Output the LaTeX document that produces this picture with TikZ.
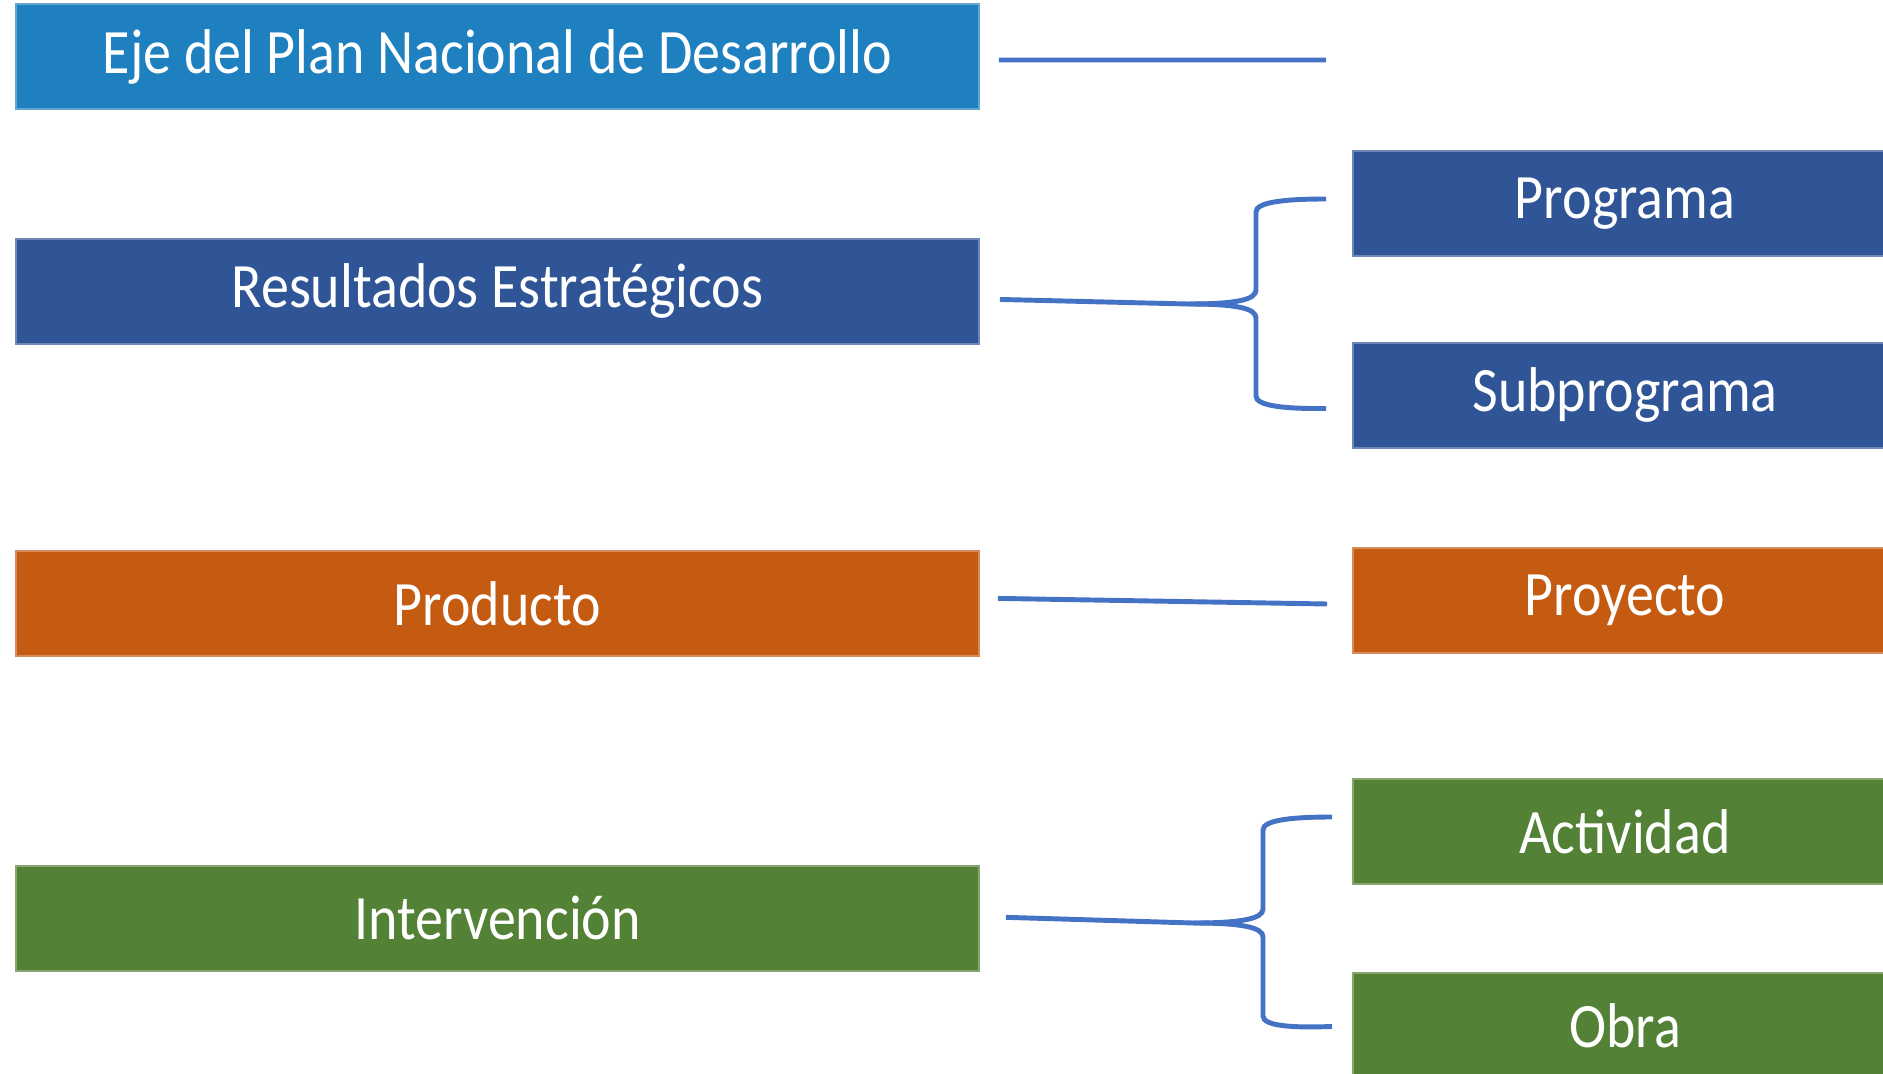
\documentclass[tikz,border=0pt]{standalone}
\usepackage{fontspec}
\setmainfont[FakeStretch=0.885]{Carlito}
\usetikzlibrary{positioning,calc}

\definecolor{ejeblue}{HTML}{1F80C0}
\definecolor{darkblue}{HTML}{2F5597}
\definecolor{orange}{HTML}{C55A11}
\definecolor{green}{HTML}{538135}
\definecolor{linkblue}{HTML}{4472C4}

\begin{document}
\begin{tikzpicture}[x=0.02cm, y=-0.02cm, line width=2.8pt]
		\tikzstyle{box}=[draw=#1!70!white, fill=#1, line width=0.8pt, text=white, inner sep=0pt, outer sep=0pt,
			minimum height=2.1cm, font=\fontsize{36}{40}\selectfont]
		\tikzstyle{leftbox}=[box=#1, minimum width=19.26cm]
		\tikzstyle{rightbox}=[box=#1, minimum width=10.88cm]
		\tikzstyle{link}=[draw=linkblue, line width=2.8pt]
		\useasboundingbox (0,0) rectangle (1883,1074);
		% left column
		\node[leftbox=ejeblue]  (eje)    at (497.5,56.5)      {Eje del Plan Nacional de Desarrollo};
		\node[leftbox=darkblue] (res)    [below=2.6cm of eje]  {Resultados Estratégicos};
		\node[leftbox=orange]   (prod)   [below=4.14cm of res] {Producto};
		\node[leftbox=green]    (interv) [below=4.2cm of prod] {Intervención};
		% right column
		\node[rightbox=darkblue] (prog) at (1625,203.5)       {Programa};
		\node[rightbox=darkblue] (sub)  [below=1.74cm of prog] {Subprograma};
		\node[rightbox=orange]   (proy) at (1625,600.5)       {Proyecto};
		\node[rightbox=green]    (act)  at (1625,831.5)       {Actividad};
		\node[rightbox=green]    (obra) [below=1.78cm of act]  {Obra};
		% connectors
		\coordinate (ejeend) at (1326,60);
		\coordinate (restip) at (1188,304);
		\coordinate (inttip) at (1193,923);
		\draw[link] ([xshift=0.4cm,yshift=-0.07cm]eje.east) -- (ejeend);
		\draw[link] ([xshift=0.42cm,yshift=-0.16cm]res.east) -- (restip);
		\draw[link] (restip) .. controls (1235,304) and (1256,300) .. (1256,290) -- (1256,212)
			.. controls (1256,202) and (1285,199) .. ([xshift=-0.54cm,yshift=0.09cm]prog.west);
		\draw[link] (restip) .. controls (1235,304) and (1256,308) .. (1256,318) -- (1256,396)
			.. controls (1256,406) and (1285,409) .. ([xshift=-0.54cm,yshift=-0.26cm]sub.west);
		\draw[link] ([xshift=0.38cm,yshift=0.1cm]prod.east) -- ([xshift=-0.52cm,yshift=-0.07cm]proy.west);
		\draw[link] ([xshift=0.54cm,yshift=0.02cm]interv.east) -- (inttip);
		\draw[link] (inttip) .. controls (1240,923) and (1263,919) .. (1263,909) -- (1263,830)
			.. controls (1263,820) and (1292,817) .. ([xshift=-0.42cm,yshift=0.29cm]act.west);
		\draw[link] (inttip) .. controls (1240,923) and (1263,927) .. (1263,937) -- (1263,1016)
			.. controls (1263,1026) and (1292,1028) .. ([xshift=-0.42cm,yshift=-0.02cm]obra.west);
	\end{tikzpicture}
\end{document}
